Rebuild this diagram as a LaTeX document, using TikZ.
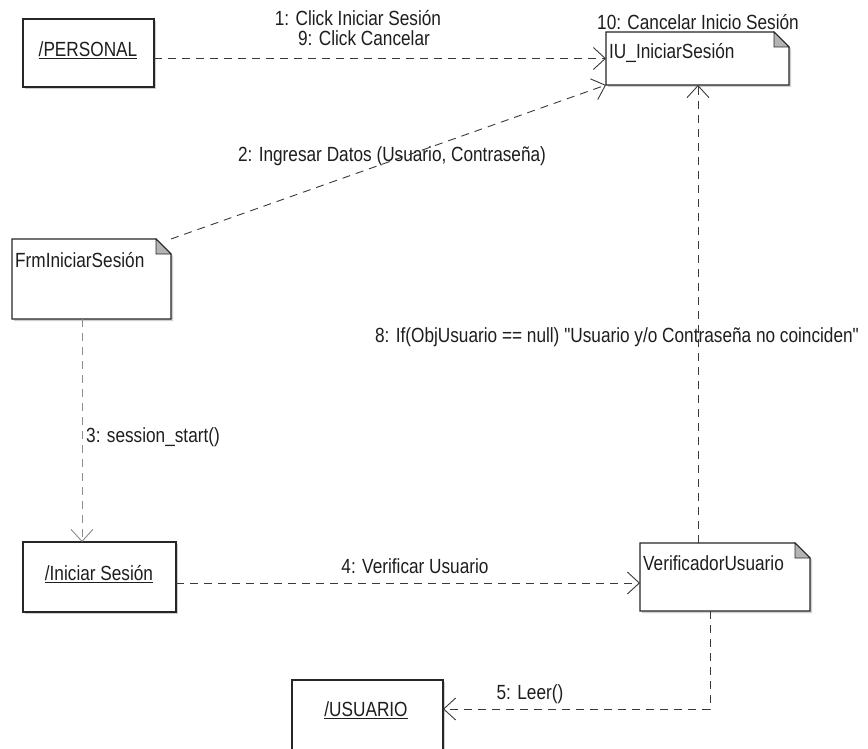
\documentclass[tikz,border=0pt]{standalone}
\usepackage{fontspec}
\newfontfamily\labelfont{Liberation Sans}[FakeStretch=0.84]
\usetikzlibrary{arrows.meta}
\definecolor{linec}{HTML}{3A3A3A}
\definecolor{foldc}{HTML}{B4B4B4}
\definecolor{shadowc}{HTML}{CFCFCF}
\definecolor{textc}{HTML}{1E1E1E}
\tikzset{
  shapebox/.style={draw=none, inner sep=0pt, outer sep=0pt},
  txt/.style={font=\labelfont\fontsize{20.5}{24}\selectfont, text=textc, inner sep=0pt},
  msg/.style={draw=linec, line width=0.9pt, dash pattern=on 8pt off 6pt,
    -{Straight Barb[length=12pt,width=22pt,line width=0.9pt]}},
  msglight/.style={msg, draw=black!45},
  outline/.style={draw=black!85, line width=1.1pt, fill=white},
}
\newcommand\objbox[1]{%
  \fill[shadowc] ([shift={(2pt,-2pt)}]#1.south west) rectangle ([shift={(2pt,-2pt)}]#1.north east);
  \draw[outline] (#1.south west) rectangle (#1.north east);}
\newcommand\umlnote[1]{%
  \fill[shadowc] ([shift={(2pt,-2pt)}]#1.south west) -- ([shift={(2pt,-2pt)}]#1.north west) --
    ([shift={(-13pt,-2pt)}]#1.north east) -- ([shift={(2pt,-17pt)}]#1.north east) --
    ([shift={(2pt,-2pt)}]#1.south east) -- cycle;
  \draw[outline] (#1.south west) -- (#1.north west) -- ([xshift=-15pt]#1.north east) --
    ([yshift=-15pt]#1.north east) -- (#1.south east) -- cycle;
  \draw[draw=black!85, line width=0.8pt, fill=foldc] ([xshift=-15pt]#1.north east) --
    ([xshift=-15pt,yshift=-15pt]#1.north east) -- ([yshift=-15pt]#1.north east) -- cycle;}
\begin{document}
\begin{tikzpicture}[x=1pt, y=-1pt]
\useasboundingbox (0,0) rectangle (868,749);
\clip (0,0) rectangle (868,749);
\fill[white] (0,0) rectangle (868,749);

% shapes
\node[shapebox, minimum width=131pt, minimum height=68pt] (personal) at (88.5,53) {};
\node[shapebox, minimum width=183pt, minimum height=53pt] (iu) at (697.5,58.5) {};
\node[shapebox, minimum width=159pt, minimum height=80pt] (frm) at (91.5,279) {};
\node[shapebox, minimum width=153pt, minimum height=70pt] (inic) at (99.5,577) {};
\node[shapebox, minimum width=170pt, minimum height=68pt] (ver) at (725,577) {};
\node[shapebox, minimum width=151pt, minimum height=80pt] (usu) at (367.5,720) {};

\objbox{personal}
\umlnote{iu}
\umlnote{frm}
\objbox{inic}
\umlnote{ver}
\objbox{usu}

% texts inside
\node[txt] (personal-t) at (88,50) {\underline{/PERSONAL}};
\node[txt, anchor=west] (iu-t) at (609,53) {IU\_IniciarSesión};
\node[txt, anchor=west] (frm-t) at (15,260) {FrmIniciarSesión};
\node[txt] (inic-t) at (99,574) {\underline{/Iniciar Sesión}};
\node[txt, anchor=west] (ver-t) at (643,563) {VerificadorUsuario};
\node[txt] (usu-t) at (366,710) {\underline{/USUARIO}};

% messages
\draw[msg] (personal.east |- iu.west) -- (iu.west);
\draw[msg] (frm.north east) -- (iu.south west);
\draw[msglight] ([xshift=-9.5pt]frm.south) -- ([xshift=-9.5pt]frm.south |- inic.north);
\draw[msg] ([yshift=-6pt]inic.east) -- ([yshift=-6pt]inic.east -| ver.west);
\draw[msg] ([xshift=-27pt]ver.north) -- ([xshift=-27pt]ver.north |- iu.south);
\coordinate (bend) at ([xshift=-15pt]ver.south |- 0,709);
\draw[msg] ([xshift=-15pt]ver.south) -- (bend) -- (bend -| usu.east);

% labels
\node[txt] (l1) at (358,18) {1: Click Iniciar Sesión};
\node[txt] (l9) at (364,38) {9: Click Cancelar};
\node[txt] (l10) at (698,22) {10: Cancelar Inicio Sesión};
\node[txt] (l2) at (392,156) {2: Ingresar Datos (Usuario, Contraseña)};
\node[txt, anchor=west] (l3) at (86,437) {3: session\_start()};
\node[txt] (l4) at (415,566) {4: Verificar Usuario};
\node[txt] (l8) at (617,337) {8: If(ObjUsuario == null) "Usuario y/o Contraseña no coinciden"};
\node[txt] (l5) at (530,694) {5: Leer()};
\end{tikzpicture}
\end{document}
